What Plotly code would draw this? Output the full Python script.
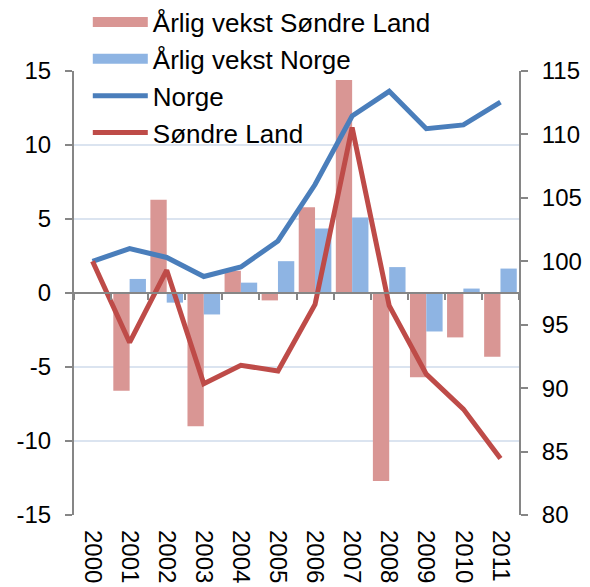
import plotly.graph_objects as go

years = ["2000", "2001", "2002", "2003", "2004", "2005", "2006", "2007", "2008", "2009", "2010", "2011"]
vekst_sondre_land = [None, -6.6, 6.3, -9.0, 1.5, -0.5, 5.8, 14.4, -12.7, -5.7, -3.0, -4.3]
vekst_norge = [None, 0.95, -0.65, -1.45, 0.7, 2.15, 4.35, 5.1, 1.75, -2.6, 0.3, 1.65]
indeks_norge = [100.0, 101.0, 100.3, 98.8, 99.55, 101.6, 106.05, 111.45, 113.4, 110.45, 110.75, 112.55]
indeks_sondre_land = [100.0, 93.6, 99.3, 90.35, 91.8, 91.35, 96.6, 110.55, 96.5, 91.1, 88.35, 84.45]
left_ticks = [-15, -10, -5, 0, 5, 10, 15]
left_tick_labels = ["-15", "-10", "-5", "0", "5", "10", "15"]
right_ticks = [80, 85, 90, 95, 100, 105, 110, 115]

FONT = "Liberation Sans, Arial, sans-serif"
GRAY = "#868686"
GRID = "#dbe4f0"
RED_BAR = "#d99694"
BLUE_BAR = "#8eb4e3"
xrange = [-0.5, len(years) - 0.5]

fig = go.Figure()
fig.add_trace(go.Bar(x=years, y=vekst_sondre_land, name="Årlig vekst Søndre Land",
                     marker=dict(color=RED_BAR, line=dict(width=0)),
                     xaxis="x", yaxis="y", showlegend=False))
fig.add_trace(go.Bar(x=years, y=vekst_norge, name="Årlig vekst Norge",
                     marker=dict(color=BLUE_BAR, line=dict(width=0)),
                     xaxis="x", yaxis="y", showlegend=False))
# legend-only entries with wide swatches for the bar series
fig.add_trace(go.Scatter(x=[None], y=[None], name="Årlig vekst Søndre Land", mode="lines",
                         line=dict(color=RED_BAR, width=13), xaxis="x2", yaxis="y2",
                         legendgroup="a", hoverinfo="skip"))
fig.add_trace(go.Scatter(x=[None], y=[None], name="Årlig vekst Norge", mode="lines",
                         line=dict(color=BLUE_BAR, width=13), xaxis="x2", yaxis="y2",
                         legendgroup="b", hoverinfo="skip"))
fig.add_trace(go.Scatter(x=years, y=indeks_norge, name="Norge", mode="lines",
                         line=dict(color="#4a7ebb", width=5),
                         xaxis="x2", yaxis="y2", legendgroup="c"))
fig.add_trace(go.Scatter(x=years, y=indeks_sondre_land, name="Søndre Land", mode="lines",
                         line=dict(color="#be4b48", width=5),
                         xaxis="x2", yaxis="y2", legendgroup="d"))

fig.update_layout(
    template="none",
    width=582, height=579,
    margin=dict(l=66, r=71, t=63, b=72, autoexpand=False),
    paper_bgcolor="white", plot_bgcolor="white",
    font=dict(family=FONT, size=24, color="black"),
    barmode="group", bargap=0.12, bargroupgap=0,
    showlegend=True,
    legend=dict(x=0.031, y=1.163, xanchor="left", yanchor="top",
                bgcolor="rgba(0,0,0,0)", font=dict(size=26, family=FONT),
                itemwidth=55, tracegroupgap=7.5, traceorder="normal"),
    xaxis=dict(type="category", categoryorder="array", categoryarray=years, range=xrange,
               showline=False, ticks="", showgrid=False, zeroline=False,
               tickangle=90, ticklabelstandoff=14, automargin=False,
               tickfont=dict(size=24, family=FONT)),
    xaxis2=dict(type="category", categoryorder="array", categoryarray=years, range=xrange,
                overlaying="x", anchor="free", position=0.5, side="bottom",
                showline=True, linecolor=GRAY, linewidth=2,
                ticks="outside", ticklen=6, tickwidth=1.5, tickcolor=GRAY,
                tickson="boundaries", showticklabels=False, showgrid=False,
                zeroline=False, automargin=False),
    yaxis=dict(range=[-15, 15], tickmode="array", tickvals=left_ticks, ticktext=left_tick_labels,
               showline=True, linecolor=GRAY, linewidth=2,
               ticks="outside", ticklen=7, tickwidth=1.5, tickcolor=GRAY,
               showgrid=True, gridcolor=GRID, gridwidth=1.5, zeroline=False,
               ticklabelstandoff=9, automargin=False, tickfont=dict(size=24, family=FONT)),
    yaxis2=dict(range=[80, 115], tickmode="array", tickvals=right_ticks,
                overlaying="y", side="right",
                showline=True, linecolor=GRAY, linewidth=2,
                ticks="outside", ticklen=7, tickwidth=1.5, tickcolor=GRAY,
                showgrid=False, zeroline=False, ticklabelstandoff=9, automargin=False,
                tickfont=dict(size=24, family=FONT)),
)

fig.write_html("out.html")
